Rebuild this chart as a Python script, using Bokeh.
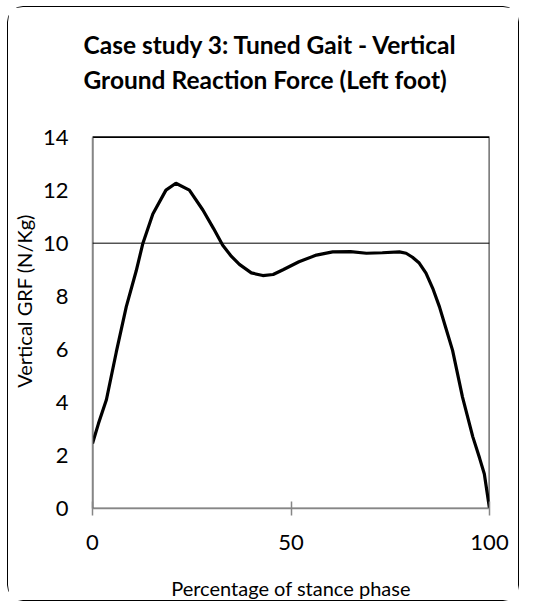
from bokeh.plotting import figure
from bokeh.models import Range1d, FixedTicker, Span, Title, BoxAnnotation
from bokeh.embed import file_html
from bokeh.resources import INLINE

# Data
stance_pct = [0, 1.5, 3.5, 6, 8.5, 11, 12.7, 15.2, 18.5, 21, 24.4, 27.8, 30.5, 32.8, 35,
              37, 40, 42.9, 45.5, 48, 52, 56.4, 60.5, 65, 69, 73, 77.3, 79, 80.6, 82.3,
              84, 85.7, 87.4, 89, 90.7, 93.2, 95.8, 97.5, 98.7, 100]
vgrf = [2.45, 3.2, 4.1, 5.9, 7.6, 8.95, 10.0, 11.1, 12.0, 12.26, 12.0, 11.25, 10.55, 9.92, 9.5,
        9.2, 8.88, 8.78, 8.82, 9.0, 9.3, 9.55, 9.67, 9.68, 9.62, 9.64, 9.67, 9.62, 9.47, 9.25,
        8.87, 8.3, 7.6, 6.8, 5.96, 4.2, 2.7, 1.9, 1.3, 0.0]

x_ticks = [0, 50, 100]
y_ticks = [0, 2, 4, 6, 8, 10, 12, 14]
ref_level = 10

title_lines = ["Case study 3:  Tuned Gait - Vertical", "Ground Reaction Force (Left foot)"]
x_label = "Percentage of stance phase"
y_label = "Vertical GRF (N/Kg)"

FONT = "Lato"
W, H = 512, 595

# layout (pixels inside the canvas)
axis_top_px, axis_bottom_px = 129.5, 500.5      # where y=14 and y=0 sit
frame_top_px = 86                               # frame extends above the axis box, titles sit above it
x_min, x_max = x_ticks[0], x_ticks[-1]
y_min, y_max = y_ticks[0], y_ticks[-1]
y_end = y_max * (axis_bottom_px - frame_top_px) / (axis_bottom_px - axis_top_px)

p = figure(width=W, height=H, output_backend="svg", toolbar_location=None,
           x_range=Range1d(x_min, x_max), y_range=Range1d(y_min, y_end),
           min_border_left=84, min_border_right=31, min_border_top=frame_top_px,
           min_border_bottom=int(H - axis_bottom_px))
p.styles = {"margin": "6px 0 0 7px", "border": "1.5px solid #000", "border-radius": "16px"}
p.outline_line_color = None
p.xgrid.visible = False
p.ygrid.visible = False

# plot-area box (top/right edges black; the grey axes are drawn over the left/bottom)
p.add_layout(BoxAnnotation(left=x_min, right=x_max, bottom=y_min, top=y_max,
                           fill_alpha=0, line_color="black", line_alpha=1.0, line_width=1.7,
                           level="underlay"))
p.add_layout(Span(location=ref_level, dimension="width", line_color="black", line_width=1))

p.line(stance_pct, vgrf, line_color="black", line_width=3.2)

p.xaxis.ticker = FixedTicker(ticks=x_ticks)
p.yaxis.ticker = FixedTicker(ticks=y_ticks)
p.yaxis.bounds = (y_min, y_max)
for ax in (p.xaxis[0], p.yaxis[0]):
    ax.axis_line_color = "#868686"
    ax.axis_line_width = 1.5
    ax.major_tick_line_color = "#868686"
    ax.major_tick_line_width = 1.5
    ax.minor_tick_line_color = None
    ax.major_label_text_font = FONT
    ax.major_label_text_font_size = "22px"
    ax.major_label_text_color = "black"
    ax.axis_label_text_font = FONT
    ax.axis_label_text_font_style = "normal"
    ax.axis_label_text_font_size = "20px"
    ax.axis_label_text_color = "black"

p.xaxis.major_tick_in = 7
p.xaxis.major_tick_out = 7
p.xaxis.major_label_standoff = 19
p.xaxis.axis_label = x_label
p.xaxis.axis_label_standoff = 23

p.yaxis.major_tick_in = 0
p.yaxis.major_tick_out = 0
p.yaxis.major_label_standoff = 24
p.yaxis.axis_label = y_label
p.yaxis.axis_label_standoff = 4

# Two-line title: the line added last sits on top
p.add_layout(Title(text=title_lines[1], align="left", offset=-9, standoff=0,
                   text_font=FONT, text_font_style="bold", text_font_size="24.5px",
                   text_color="black"), "above")
p.add_layout(Title(text=title_lines[0], align="left", offset=-9, standoff=8,
                   text_font=FONT, text_font_style="bold", text_font_size="24.5px",
                   text_color="black"), "above")

open("out.html", "w").write(file_html(p, INLINE))
